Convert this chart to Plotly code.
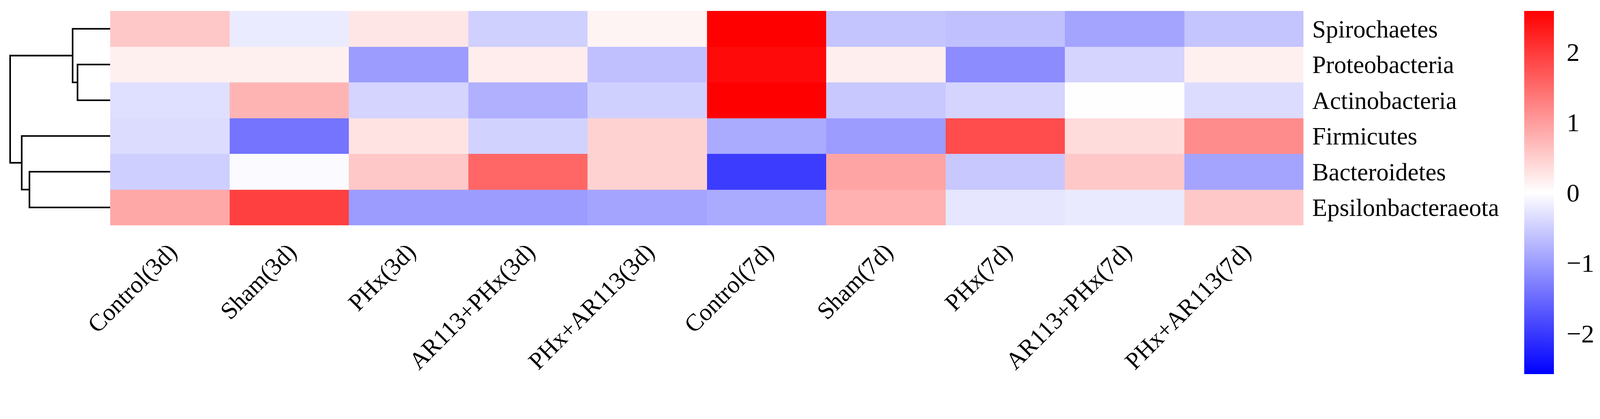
import plotly.graph_objects as go

samples = ["Control(3d)", "Sham(3d)", "PHx(3d)", "AR113+PHx(3d)", "PHx+AR113(3d)",
           "Control(7d)", "Sham(7d)", "PHx(7d)", "AR113+PHx(7d)", "PHx+AR113(7d)"]
phyla = ["Spirochaetes", "Proteobacteria", "Actinobacteria",
         "Firmicutes", "Bacteroidetes", "Epsilonbacteraeota"]

# row z-scores, one list per phylum (same order as samples)
spirochaetes = [0.56, -0.20, 0.25, -0.48, 0.11, 2.60, -0.60, -0.64, -0.92, -0.60]
proteobacteria = [0.15, 0.15, -1.00, 0.19, -0.64, 2.48, 0.17, -1.16, -0.43, 0.15]
actinobacteria = [-0.32, 0.76, -0.43, -0.80, -0.48, 2.60, -0.56, -0.43, 0.01, -0.35]
firmicutes = [-0.35, -1.41, 0.28, -0.46, 0.46, -0.86, -1.00, 1.81, 0.35, 1.16]
bacteroidetes = [-0.50, -0.05, 0.56, 1.55, 0.46, -1.97, 0.92, -0.56, 0.56, -0.92]
epsilonbacteraeota = [0.88, 1.93, -1.00, -1.00, -0.92, -0.86, 0.80, -0.25, -0.21, 0.56]

# row clustering: (child a, child b, height); leaves 0-5, new clusters numbered from 6
merges = [(1, 2, 0.93), (0, 6, 1.07), (4, 5, 2.30), (3, 8, 2.52), (7, 9, 2.85)]

cbar_ticks = [-2, -1, 0, 1, 2]
zlim = 2.58

z = [spirochaetes, proteobacteria, actinobacteria, firmicutes, bacteroidetes, epsilonbacteraeota]
font = "Liberation Serif, Times New Roman, serif"

# the capture scales css px up by about this much, so sizes below are in
# screenshot pixels and get divided by it
F = 1.113
W, H = 4550, 1073


def px(v):
    return v / F


fig = go.Figure()

fig.add_trace(go.Heatmap(
    z=z, x=list(range(len(samples))), y=list(range(len(phyla))),
    zmin=-zlim, zmax=zlim,
    colorscale=[[0, "rgb(0,0,255)"], [0.5, "rgb(255,255,255)"], [1, "rgb(255,0,0)"]],
    colorbar=dict(
        x=4334 / W, xanchor="left", y=(633 - 539.5) / 611, yanchor="middle",
        len=px(1035), lenmode="pixels", thickness=px(85), thicknessmode="pixels",
        outlinewidth=0, xpad=0, ypad=0,
        tickvals=cbar_ticks, ticks="outside", ticklen=px(22), tickcolor="rgba(0,0,0,0)",
        tickfont=dict(family=font, size=px(74), color="black"),
    ),
))

# dendrogram segments built from the merge table
pos = {i: (float(i), 0.0) for i in range(len(phyla))}
xs, ys = [], []
for k, (a, b, h) in enumerate(merges):
    ya, ha = pos[a]
    yb, hb = pos[b]
    xs += [ha, h, h, hb, None]
    ys += [ya, ya, yb, yb, None]
    pos[len(phyla) + k] = ((ya + yb) / 2, h)

fig.add_trace(go.Scatter(
    x=xs, y=ys, xaxis="x2", yaxis="y", mode="lines",
    line=dict(color="black", width=px(4.5)), hoverinfo="skip", showlegend=False,
))

fig.update_layout(
    template="none",
    width=round(px(W)), height=round(px(H)), autosize=False,
    margin=dict(l=0, r=0, t=px(22), b=px(440), pad=0),
    paper_bgcolor="white", plot_bgcolor="white",
    font=dict(family=font, color="black"),
    showlegend=False,
    xaxis=dict(
        domain=[305 / W, 3705 / W], anchor="y", automargin=False,
        tickvals=list(range(len(samples))), ticktext=samples, tickangle=-45,
        tickfont=dict(family=font, size=px(69), color="black"),
        ticks="outside", ticklen=px(6), tickcolor="rgba(0,0,0,0)",
        showgrid=False, zeroline=False, showline=False,
        range=[-0.5, len(samples) - 0.5],
    ),
    yaxis=dict(
        anchor="x", side="right", automargin=False,
        tickvals=list(range(len(phyla))), ticktext=phyla,
        tickfont=dict(family=font, size=px(70), color="black"),
        ticks="outside", ticklen=px(10), tickcolor="rgba(0,0,0,0)",
        showgrid=False, zeroline=False, showline=False,
        range=[len(phyla) - 0.5, -0.5],
    ),
    xaxis2=dict(
        domain=[0, 305 / W], anchor="y", range=[3.05, 0], automargin=False,
        visible=False, showgrid=False, zeroline=False,
    ),
)

fig.write_html("out.html")
